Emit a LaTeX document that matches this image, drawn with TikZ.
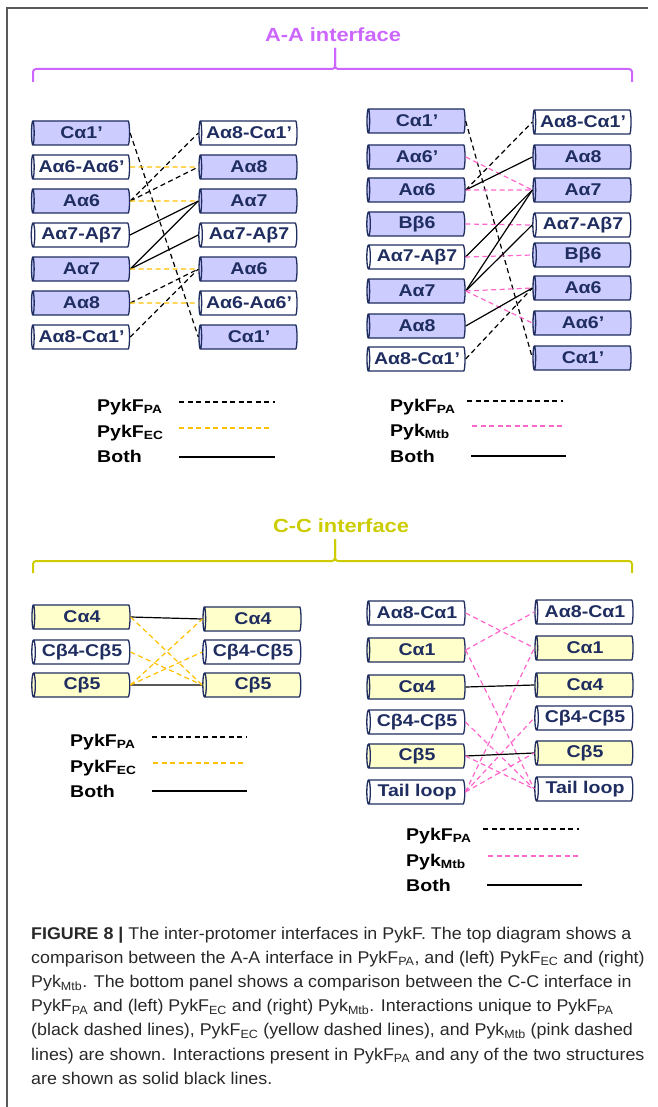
\documentclass[tikz,border=0pt]{standalone}
\usepackage{fontspec}
\setmainfont{Liberation Sans}
\newfontfamily\figfont[FakeStretch=1.15]{Liberation Sans}
\newfontfamily\capfont[FakeStretch=1.05]{Liberation Sans}
\usetikzlibrary{shapes.geometric}

\definecolor{navy}{RGB}{31,45,96}
\definecolor{lavfill}{RGB}{204,204,255}
\definecolor{creamfill}{RGB}{255,255,204}
\definecolor{aaviolet}{RGB}{204,102,255}
\definecolor{ccolive}{RGB}{204,204,0}
\definecolor{ecyellow}{RGB}{255,192,0}
\definecolor{mtbpink}{RGB}{255,102,204}
\definecolor{capgray}{RGB}{40,40,40}

\newcommand{\sub}[1]{\textsubscript{#1}}

\tikzset{
  helix/.style={cylinder, shape border rotate=180, aspect=0.22, draw=navy,
    line width=1.3pt, minimum width=24pt, minimum height=98pt, inner sep=0pt,
    text=navy, font=\figfont\bfseries\fontsize{17}{19}\selectfont},
  lavbox/.style={helix, fill=lavfill},
  creambox/.style={helix, fill=creamfill},
  whitebox/.style={helix, fill=white},
  paline/.style={black, line width=1.2pt, dash pattern=on 5pt off 3.5pt},
  ecline/.style={ecyellow, line width=1.2pt, dash pattern=on 5pt off 3.5pt},
  mtbline/.style={mtbpink, line width=1.2pt, dash pattern=on 5pt off 3.5pt},
  bothline/.style={black, line width=1.2pt},
  legtext/.style={anchor=base west, inner sep=0pt, font=\figfont\bfseries\fontsize{17}{19}\selectfont},
  title/.style={font=\figfont\bfseries\fontsize{19}{22}\selectfont, inner sep=0pt},
  brace/.style={line width=2pt, rounded corners=3pt},
  captext/.style={anchor=base west, inner sep=0pt, text=capgray, font=\capfont\fontsize{17}{19}\selectfont}
}

\begin{document}
\begin{tikzpicture}[x=1pt, y=-1pt]
\useasboundingbox (0,0) rectangle (657,1107);
% frame
\draw[gray!70!black, line width=1.5pt] (7,1107) -- (7,8) -- (648,8);

% A-A interface
\node[title, text=aaviolet] (aatitle) at (333,35) {A-A interface};
\draw[brace, aaviolet] (33,82) -- (33,69) -- (335,69) -- (335,48);
\draw[brace, aaviolet] (335,48) -- (335,69) -- (632,69) -- (632,82);

% A-A, left: PykF_PA vs PykF_EC
\foreach \y/\t/\s [count=\i] in {133/Cα1’/lavbox, 167/Aα6-Aα6’/whitebox, 201/Aα6/lavbox,
    235/Aα7-Aβ7/whitebox, 269/Aα7/lavbox, 303/Aα8/lavbox, 337/Aα8-Cα1’/whitebox}
  \node[\s] (tlL\i) at (81.5,\y) {\t};
\foreach \y/\t/\s [count=\i] in {133/Aα8-Cα1’/whitebox, 167/Aα8/lavbox, 201/Aα7/lavbox,
    235/Aα7-Aβ7/whitebox, 269/Aα6/lavbox, 303/Aα6-Aα6’/whitebox, 337/Cα1’/lavbox}
  \node[\s] (tlR\i) at (249,\y) {\t};
\foreach \a/\b/\s in {1/7/paline, 2/2/ecline, 3/1/paline, 3/2/paline, 3/3/ecline,
    4/3/bothline, 5/3/bothline, 5/4/bothline, 5/5/ecline, 6/5/paline, 6/6/ecline, 7/5/paline}
  \draw[\s] (tlL\a.east) -- (tlR\b.west);

% A-A, right: PykF_PA vs Pyk_Mtb
\foreach \y/\t/\s [count=\i] in {121/Cα1’/lavbox, 157/Aα6’/lavbox, 190/Aα6/lavbox, 224/Bβ6/lavbox,
    257/Aα7-Aβ7/whitebox, 291/Aα7/lavbox, 326/Aα8/lavbox, 359/Aα8-Cα1’/whitebox}
  \node[\s] (trL\i) at (417,\y) {\t};
\foreach \y/\t/\s [count=\i] in {122/Aα8-Cα1’/whitebox, 157/Aα8/lavbox, 190/Aα7/lavbox,
    225/Aα7-Aβ7/whitebox, 255/Bβ6/lavbox, 288/Aα6/lavbox, 323/Aα6’/lavbox, 358/Cα1’/lavbox}
  \node[\s] (trR\i) at (583,\y) {\t};
\foreach \a/\b/\s in {1/8/paline, 2/3/mtbline, 3/1/paline, 3/2/bothline, 3/3/mtbline,
    4/4/mtbline, 5/3/bothline, 5/5/mtbline, 6/3/bothline, 6/4/bothline, 6/6/mtbline,
    6/7/mtbline, 7/6/bothline, 8/6/paline}
  \draw[\s] (trL\a.east) -- (trR\b.west);

% A-A legends
\node[legtext] (tlkey1) at (97,411) {PykF\sub{PA}};
\node[legtext] (tlkey2) at (97,437) {PykF\sub{EC}};
\node[legtext] (tlkey3) at (97,462) {Both};
\coordinate (tla1) at (179,402); \coordinate (tlb1) at (275,402);
\coordinate (tla2) at (179,428); \coordinate (tlb2) at (272,428);
\coordinate (tla3) at (179,457); \coordinate (tlb3) at (275,457);
\draw[paline] (tla1) -- (tlb1);
\draw[ecline] (tla2) -- (tlb2);
\draw[bothline] (tla3) -- (tlb3);

\node[legtext] (trkey1) at (390,411) {PykF\sub{PA}};
\node[legtext] (trkey2) at (390,436) {Pyk\sub{Mtb}};
\node[legtext] (trkey3) at (390,462) {Both};
\coordinate (tra1) at (467,401); \coordinate (trb1) at (563,401);
\coordinate (tra2) at (472,426); \coordinate (trb2) at (563,426);
\coordinate (tra3) at (471,456); \coordinate (trb3) at (566,456);
\draw[paline] (tra1) -- (trb1);
\draw[mtbline] (tra2) -- (trb2);
\draw[bothline] (tra3) -- (trb3);

% C-C interface
\node[title, text=ccolive] (cctitle) at (341,526) {C-C interface};
\draw[brace, ccolive] (33,573) -- (33,561) -- (335,561) -- (335,539);
\draw[brace, ccolive] (335,539) -- (335,561) -- (632,561) -- (632,573);

% C-C, left: PykF_PA vs PykF_EC
\foreach \y/\t/\s [count=\i] in {617/Cα4/creambox, 652/Cβ4-Cβ5/whitebox, 685/Cβ5/creambox}
  \node[\s] (blL\i) at (82,\y) {\t};
\foreach \y/\t/\s [count=\i] in {619/Cα4/creambox, 652/Cβ4-Cβ5/whitebox, 685/Cβ5/creambox}
  \node[\s] (blR\i) at (253,\y) {\t};
\foreach \a/\b/\s in {1/1/bothline, 3/3/bothline, 1/3/ecline, 2/3/ecline, 3/1/ecline, 3/2/ecline}
  \draw[\s] (blL\a.east) -- (blR\b.west);

% C-C, right: PykF_PA vs Pyk_Mtb
\foreach \y/\t/\s [count=\i] in {613/Aα8-Cα1/whitebox, 650/Cα1/creambox, 687/Cα4/creambox,
    722/Cβ4-Cβ5/whitebox, 756/Cβ5/creambox, 792/Tail loop/whitebox}
  \node[\s] (brL\i) at (417,\y) {\t};
\foreach \y/\t/\s [count=\i] in {612/Aα8-Cα1/whitebox, 648/Cα1/creambox, 685/Cα4/creambox,
    718/Cβ4-Cβ5/whitebox, 753/Cβ5/creambox, 789/Tail loop/whitebox}
  \node[\s] (brR\i) at (585,\y) {\t};
\foreach \a/\b/\s in {1/2/mtbline, 2/1/mtbline, 2/6/mtbline, 6/2/mtbline, 3/3/bothline,
    4/6/mtbline, 6/4/mtbline, 5/5/bothline, 5/6/mtbline, 6/5/mtbline}
  \draw[\s] (brL\a.east) -- (brR\b.west);

% C-C legends
\node[legtext] (blkey1) at (70,746) {PykF\sub{PA}};
\node[legtext] (blkey2) at (70,772) {PykF\sub{EC}};
\node[legtext] (blkey3) at (70,797) {Both};
\coordinate (bla1) at (152,737); \coordinate (blb1) at (247,737);
\coordinate (bla2) at (153,763); \coordinate (blb2) at (243,763);
\coordinate (bla3) at (152,791); \coordinate (blb3) at (247,791);
\draw[paline] (bla1) -- (blb1);
\draw[ecline] (bla2) -- (blb2);
\draw[bothline] (bla3) -- (blb3);

\node[legtext] (brkey1) at (406,840) {PykF\sub{PA}};
\node[legtext] (brkey2) at (406,866) {Pyk\sub{Mtb}};
\node[legtext] (brkey3) at (406,891) {Both};
\coordinate (bra1) at (483,829); \coordinate (brb1) at (579,829);
\coordinate (bra2) at (488,856); \coordinate (brb2) at (579,856);
\coordinate (bra3) at (487,885); \coordinate (brb3) at (582,885);
\draw[paline] (bra1) -- (brb1);
\draw[mtbline] (bra2) -- (brb2);
\draw[bothline] (bra3) -- (brb3);

% caption
\foreach \t [count=\i] in {%
    {\textbf{FIGURE 8 |} The inter-protomer interfaces in PykF. The top diagram shows a},
    {comparison between the A-A interface in PykF\sub{PA}, and (left) PykF\sub{EC} and (right)},
    {Pyk\sub{Mtb}. The bottom panel shows a comparison between the C-C interface in},
    {PykF\sub{PA} and (left) PykF\sub{EC} and (right) Pyk\sub{Mtb}. Interactions unique to PykF\sub{PA}},
    {(black dashed lines), PykF\sub{EC} (yellow dashed lines), and Pyk\sub{Mtb} (pink dashed},
    {lines) are shown. Interactions present in PykF\sub{PA} and any of the two structures},
    {are shown as solid black lines.}}
  \node[captext] (cap\i) at (31,{939+(\i-1)*24.2}) {\t};
\end{tikzpicture}
\end{document}
